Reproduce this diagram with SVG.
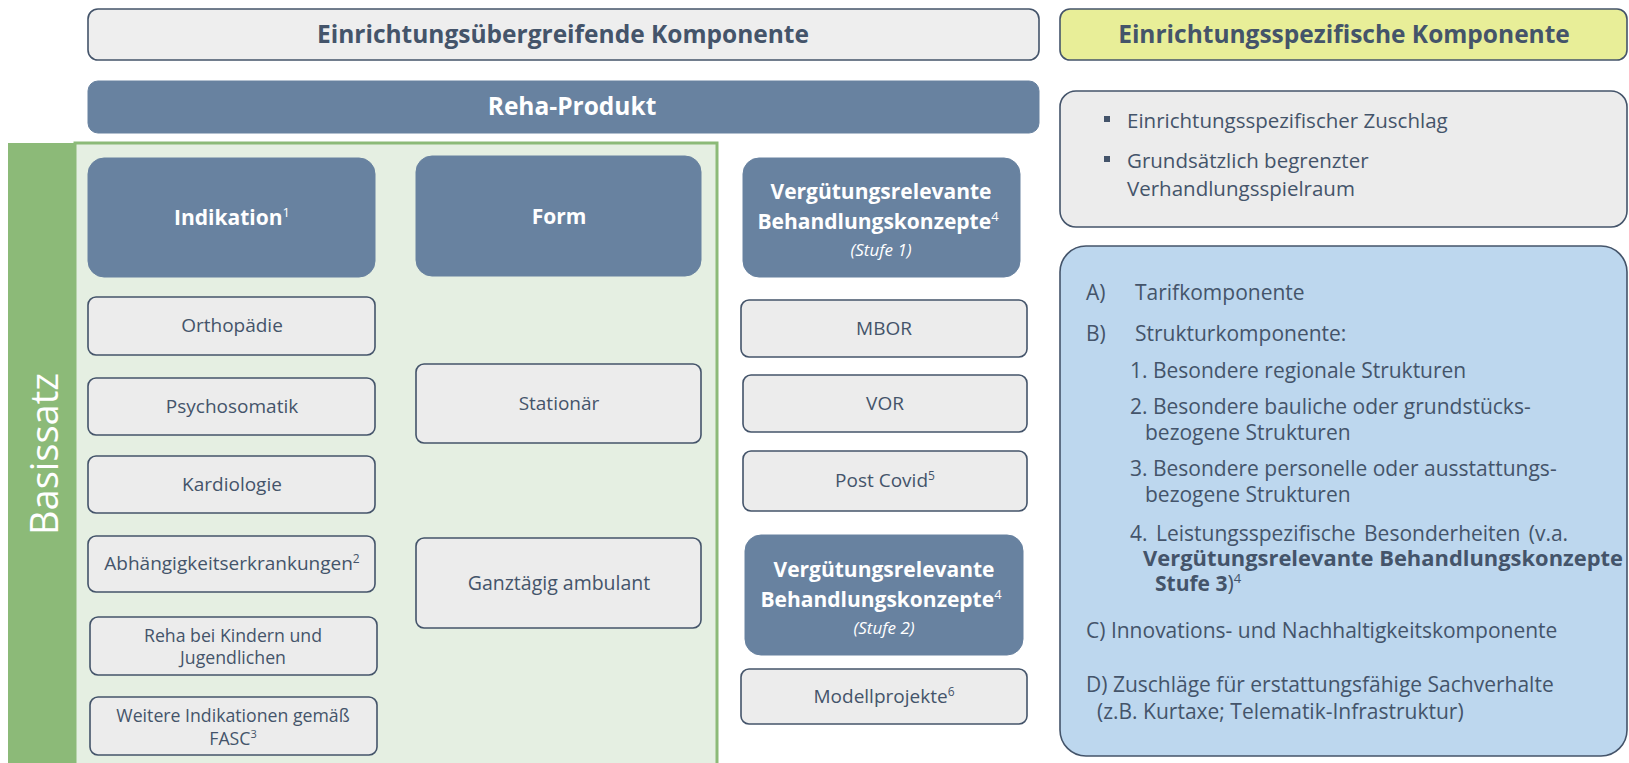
<svg xmlns="http://www.w3.org/2000/svg" width="1629" height="763" viewBox="0 0 1629 763">
<style>
.dark{fill:#6882a0;stroke:#6882a0;stroke-width:1}
.gray{fill:#ececec;stroke:#44546a;stroke-width:1.6}
.t{font-family:"Open Sans","Liberation Sans",sans-serif;fill:#44546a;text-anchor:middle}
.o{font-family:"Open Sans","Liberation Sans",sans-serif;fill:#44546a}
.w{fill:#ffffff}
.b{font-weight:bold}
</style>
<rect width="1629" height="763" fill="#ffffff"/>
<g id="top-left">
<rect x="88" y="9" width="951" height="51" rx="10" fill="#eeeeee" stroke="#44546a" stroke-width="1.6"/>
<text class="t b" x="563" y="43" font-size="24.5">Einrichtungsübergreifende Komponente</text>
</g>
<g id="reha-produkt">
<rect class="dark" x="88" y="81" width="951" height="52" rx="10"/>
<text class="t b w" x="572" y="115" font-size="24.5">Reha-Produkt</text>
</g>
<g id="top-right">
<rect x="1060" y="9" width="567" height="51" rx="10" fill="#e8ee98" stroke="#44546a" stroke-width="1.6"/>
<text class="o b" x="1344" y="43" font-size="24.5" text-anchor="middle">Einrichtungsspezifische Komponente</text>
</g>
<g id="zuschlag">
<rect x="1060" y="91" width="567" height="136" rx="16" fill="#ececec" stroke="#44546a" stroke-width="1.6"/>
<rect x="1104" y="116" width="6" height="6" fill="#44546a"/>
<rect x="1104" y="156" width="6" height="6" fill="#44546a"/>
<text class="o" x="1127" y="128" font-size="20.5">Einrichtungsspezifischer Zuschlag</text>
<text class="o" x="1127" y="168" font-size="20.5">Grundsätzlich begrenzter</text>
<text class="o" x="1127" y="196" font-size="20.5">Verhandlungsspielraum</text>
</g>
<g id="basissatz">
<rect x="75" y="143" width="642" height="625" fill="#e5efe2" stroke="#8cba78" stroke-width="3"/>
<rect x="8" y="143" width="67" height="625" fill="#8cba78"/>
<text x="58" y="454" font-family="Open Sans, Liberation Sans, sans-serif" font-size="38" fill="#ffffff" text-anchor="middle" transform="rotate(-90 58 454)">Basissatz</text>
</g>
<g id="indikation">
<rect class="dark" x="88" y="158" width="287" height="119" rx="16"/>
<text class="t b w" x="232" y="225" font-size="21">Indikation<tspan font-size="13" font-weight="normal" dy="-8">1</tspan></text>
</g>
<g id="form">
<rect class="dark" x="416" y="156" width="285" height="120" rx="16"/>
<text class="t b w" x="559" y="224" font-size="21">Form</text>
</g>
<g id="orthopaedie"><rect class="gray" x="88" y="297" width="287" height="58" rx="8"/><text class="t" x="232" y="332" font-size="19">Orthopädie</text></g>
<g id="psychosomatik"><rect class="gray" x="88" y="378" width="287" height="57" rx="8"/><text class="t" x="232" y="413" font-size="19">Psychosomatik</text></g>
<g id="kardiologie"><rect class="gray" x="88" y="456" width="287" height="57" rx="8"/><text class="t" x="232" y="491" font-size="19">Kardiologie</text></g>
<g id="abhaengigkeit"><rect class="gray" x="88" y="536" width="287" height="56" rx="8"/><text class="t" x="232" y="570" font-size="19">Abhängigkeitserkrankungen<tspan font-size="12" dy="-7">2</tspan></text></g>
<g id="kinder"><rect class="gray" x="90" y="617" width="287" height="58" rx="8"/><text class="t" x="233" y="642" font-size="17.7">Reha bei Kindern und</text><text class="t" x="233" y="664" font-size="17.7">Jugendlichen</text></g>
<g id="weitere"><rect class="gray" x="90" y="697" width="287" height="58" rx="8"/><text class="t" x="233" y="722" font-size="17.7">Weitere Indikationen gemäß</text><text class="t" x="233" y="745" font-size="17.7">FASC<tspan font-size="11" dy="-7">3</tspan></text></g>
<g id="stationaer"><rect class="gray" x="416" y="364" width="285" height="79" rx="8"/><text class="t" x="559" y="410" font-size="19">Stationär</text></g>
<g id="ganztaegig"><rect class="gray" x="416" y="538" width="285" height="90" rx="8"/><text class="t" x="559" y="590" font-size="19.5">Ganztägig ambulant</text></g>
<g id="vbk1">
<rect class="dark" x="743" y="158" width="277" height="119" rx="16"/>
<text class="o b w" x="881" y="199" font-size="21" text-anchor="middle">Vergütungsrelevante</text>
<text class="o b w" x="878" y="229" font-size="21" text-anchor="middle">Behandlungskonzepte<tspan font-size="13" font-weight="normal" dy="-8">4</tspan></text>
<text class="o w" x="881" y="256" font-size="17" font-style="italic" text-anchor="middle">(Stufe 1)</text>
</g>
<g id="mbor"><rect class="gray" x="741" y="300" width="286" height="57" rx="8"/><text class="o" x="884" y="335" font-size="19" text-anchor="middle">MBOR</text></g>
<g id="vor"><rect class="gray" x="743" y="375" width="284" height="57" rx="8"/><text class="o" x="885" y="410" font-size="19" text-anchor="middle">VOR</text></g>
<g id="postcovid"><rect class="gray" x="743" y="451" width="284" height="60" rx="8"/><text class="o" x="885" y="487" font-size="19" text-anchor="middle">Post Covid<tspan font-size="12" dy="-7">5</tspan></text></g>
<g id="vbk2">
<rect class="dark" x="745" y="535" width="278" height="120" rx="16"/>
<text class="o b w" x="884" y="577" font-size="21" text-anchor="middle">Vergütungsrelevante</text>
<text class="o b w" x="881" y="607" font-size="21" text-anchor="middle">Behandlungskonzepte<tspan font-size="13" font-weight="normal" dy="-8">4</tspan></text>
<text class="o w" x="884" y="634" font-size="17" font-style="italic" text-anchor="middle">(Stufe 2)</text>
</g>
<g id="modellprojekte"><rect class="gray" x="741" y="669" width="286" height="55" rx="8"/><text class="o" x="884" y="703" font-size="19" text-anchor="middle">Modellprojekte<tspan font-size="12" dy="-7">6</tspan></text></g>
<g id="komponenten">
<rect x="1060" y="246" width="567" height="510" rx="26" fill="#bdd7ee" stroke="#44546a" stroke-width="1.6"/>
<g class="o" font-size="21">
<text x="1086" y="300">A)</text><text x="1135" y="300">Tarifkomponente</text>
<text x="1086" y="341">B)</text><text x="1135" y="341">Strukturkomponente:</text>
<text x="1130" y="378">1. Besondere regionale Strukturen</text>
<text x="1130" y="414">2. Besondere bauliche oder grundstücks-</text>
<text x="1145" y="440">bezogene Strukturen</text>
<text x="1130" y="476">3. Besondere personelle oder ausstattungs-</text>
<text x="1145" y="502">bezogene Strukturen</text>
<text x="1130" y="541" word-spacing="3">4. Leistungsspezifische Besonderheiten (v.a.</text>
<text x="1143" y="566" font-weight="bold" textLength="480" lengthAdjust="spacingAndGlyphs">Vergütungsrelevante Behandlungskonzepte</text>
<text x="1155" y="591"><tspan font-weight="bold">Stufe 3</tspan>)<tspan font-size="13" dy="-8">4</tspan></text>
<text x="1086" y="638">C) Innovations- und Nachhaltigkeitskomponente</text>
<text x="1086" y="692">D) Zuschläge für erstattungsfähige Sachverhalte</text>
<text x="1097" y="719">(z.B. Kurtaxe; Telematik-Infrastruktur)</text>
</g>
</g>
<g id="connectors"></g>
</svg>
